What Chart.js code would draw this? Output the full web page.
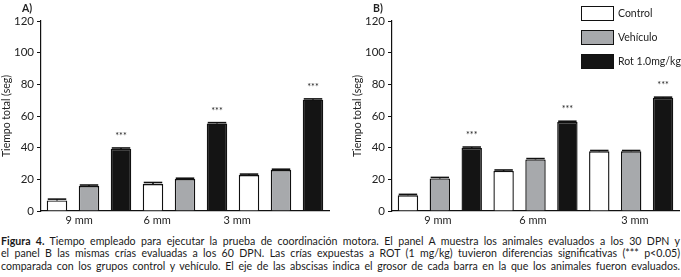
<!DOCTYPE html>
<html>
<head>
<meta charset="utf-8">
<script src="https://cdn.jsdelivr.net/npm/chart.js@4.4.1/dist/chart.umd.min.js"></script>
<style>
  body { margin: 0; background: #fff; font-family: Lato, "Open Sans", sans-serif; }
  #wrap { position: relative; width: 681px; height: 277px; overflow: hidden; }
  .panel { position: absolute; top: 0; height: 230px; }
  #pa { left: 0; width: 340px; }
  #pb { left: 340px; width: 341px; }
  #caption { position: absolute; left: 1px; top: 235px; width: 679px; font-size: 10.6px; line-height: 12.4px; color: #1a1a1a; }
  #caption div { text-align: justify; text-align-last: justify; white-space: nowrap; }
  #caption b { font-weight: 700; }
</style>
</head>
<body>
<div id="wrap">
  <div class="panel" id="pa"><canvas id="chartA" width="340" height="230"></canvas></div>
  <div class="panel" id="pb"><canvas id="chartB" width="341" height="230"></canvas></div>
  <div id="caption">
    <div><b>Figura 4.</b> Tiempo empleado para ejecutar la prueba de coordinación motora. El panel A muestra los animales evaluados a los 30 DPN y</div>
    <div>el panel B las mismas crías evaluadas a los 60 DPN. Las crías expuestas a ROT (1 mg/kg) tuvieron diferencias significativas (*** p&lt;0.05)</div>
    <div>comparada con los grupos control y vehículo. El eje de las abscisas indica el grosor de cada barra en la que los animales fueron evaluados.</div>
  </div>
</div>
<script>
// groups: Control, Vehículo, Rot 1.0mg/kg, repeated for 9 mm, 6 mm, 3 mm
var seriesNames = ['Control', 'Vehículo', 'Rot 1.0mg/kg'];
var seriesColors = ['#ffffff', '#a7a9ac', '#141414'];
var barGroup = [0, 1, 2, 0, 1, 2, 0, 1, 2];

var valuesA = [6.7, 15.8, 39.2, 17.0, 20.2, 55.2, 22.7, 25.9, 70.3];
var errorsA = [0.8, 0.6, 0.6, 1.0, 0.5, 0.6, 0.6, 0.5, 0.5];
var valuesB = [9.9, 20.6, 39.8, 25.3, 32.6, 56.2, 37.7, 37.7, 71.4];
var errorsB = [0.6, 0.6, 0.6, 0.6, 0.5, 0.5, 0.5, 0.5, 0.5];
var starBars = [2, 5, 8];

var tickLabels = ['9 mm', '6 mm', '3 mm'];
// where the x labels sit, in bar-index units (as printed in the figure)
var labelPosA = [0.69, 3.13, 5.63];
var labelPosB = [0.94, 3.92, 7.12];
var yTicks = [0, 20, 40, 60, 80, 100, 120];

var FONT = 'Lato, "Open Sans", sans-serif';

var capsPlugin = {
  id: 'caps',
  afterDatasetsDraw: function (chart, args, opts) {
    var ctx = chart.ctx;
    var meta = chart.getDatasetMeta(0);
    var ys = chart.scales.y;
    var vals = chart.data.datasets[0].data;
    ctx.save();
    meta.data.forEach(function (bar, i) {
      var top = ys.getPixelForValue(vals[i] + opts.errors[i]);
      var half = bar.width / 2;
      ctx.strokeStyle = '#111';
      ctx.lineWidth = 1.6;
      ctx.beginPath();
      ctx.moveTo(bar.x - half + 1, top);
      ctx.lineTo(bar.x + half - 1, top);
      ctx.stroke();
      ctx.beginPath();
      ctx.moveTo(bar.x, top);
      ctx.lineTo(bar.x, bar.y);
      ctx.stroke();
      if (starBars.indexOf(i) >= 0) {
        ctx.fillStyle = '#222';
        ctx.font = '9px ' + FONT;
        ctx.textAlign = 'center';
        ctx.textBaseline = 'middle';
        ctx.fillText('***', bar.x, top - 12);
      }
    });
    ctx.restore();
  }
};

// x labels placed through the category scale at fractional bar positions
var xLabelPlugin = {
  id: 'xLabels',
  afterDraw: function (chart, args, opts) {
    var ctx = chart.ctx;
    var xs = chart.scales.x;
    ctx.save();
    ctx.font = '11px ' + FONT;
    ctx.fillStyle = '#222';
    ctx.textAlign = 'center';
    ctx.textBaseline = 'middle';
    opts.pos.forEach(function (p, i) {
      ctx.fillText(tickLabels[i], xs.getPixelForValue(p), chart.chartArea.bottom + 9);
    });
    ctx.restore();
  }
};

var legendPlugin = {
  id: 'boxLegend',
  afterDraw: function (chart, args, opts) {
    if (!opts.show) return;
    var ctx = chart.ctx;
    var x = chart.chartArea.right - 98;
    ctx.save();
    ctx.font = '10.5px ' + FONT;
    ctx.textBaseline = 'middle';
    ctx.textAlign = 'left';
    seriesNames.forEach(function (name, i) {
      var y = 6 + i * 24;
      ctx.fillStyle = seriesColors[i];
      ctx.fillRect(x, y, 32, 14);
      ctx.strokeStyle = '#111';
      ctx.lineWidth = 1;
      ctx.strokeRect(x + 0.5, y + 0.5, 32, 14);
      ctx.fillStyle = '#222';
      ctx.fillText(name, x + 37, y + 7.5);
    });
    ctx.restore();
  }
};

var titlePlugin = {
  id: 'panelTitle',
  afterDraw: function (chart, args, opts) {
    var ctx = chart.ctx;
    ctx.save();
    ctx.font = 'bold 10.5px ' + FONT;
    ctx.fillStyle = '#222';
    ctx.textBaseline = 'middle';
    ctx.fillText(opts.text, opts.x, 9);
    ctx.restore();
  }
};

function makeChart(id, values, errors, labelPos, letter, padLeft, padRight, titleX, showLegend) {
  return new Chart(document.getElementById(id), {
    type: 'bar',
    data: {
      labels: barGroup.map(function (g, i) { return String(i); }),
      datasets: [{
        data: values,
        backgroundColor: barGroup.map(function (g) { return seriesColors[g]; }),
        borderColor: '#111',
        borderWidth: 1.4,
        barPercentage: 0.64,
        categoryPercentage: 1
      }]
    },
    options: {
      animation: false,
      responsive: false,
      layout: { padding: { top: 21, left: padLeft, right: padRight, bottom: 0 } },
      plugins: {
        legend: { display: false },
        tooltip: { enabled: false },
        caps: { errors: errors },
        xLabels: { pos: labelPos },
        boxLegend: { show: showLegend },
        panelTitle: { text: letter, x: titleX }
      },
      scales: {
        x: {
          afterFit: function (scale) { scale.height = 19; },
          ticks: { display: false },
          grid: { display: false },
          border: { display: true, color: '#111', width: 1.2 }
        },
        y: {
          min: 0,
          max: 120,
          afterBuildTicks: function (scale) {
            scale.ticks = yTicks.map(function (v) { return { value: v }; });
          },
          afterFit: function (scale) { scale.width = 41; },
          ticks: {
            padding: 3,
            color: '#222',
            font: { family: FONT, size: 11.5 }
          },
          grid: { display: true, drawOnChartArea: false, drawTicks: true, tickLength: 4, color: '#111', lineWidth: 1 },
          border: { display: true, color: '#111', width: 1.2 },
          title: {
            display: true,
            text: 'Tiempo total (seg)',
            color: '#222',
            padding: 0,
            font: { family: FONT, size: 10.5 }
          }
        }
      }
    },
    plugins: [capsPlugin, xLabelPlugin, legendPlugin, titlePlugin, {
      id: 'whiteBg',
      beforeDraw: function (chart) {
        var ctx = chart.canvas.getContext('2d');
        ctx.save();
        ctx.globalCompositeOperation = 'destination-over';
        ctx.fillStyle = 'white';
        ctx.fillRect(0, 0, chart.canvas.width, chart.canvas.height);
        ctx.restore();
      }
    }]
  });
}

var chartA = makeChart('chartA', valuesA, errorsA, labelPosA, 'A)', 0, 11, 22, false);
var chartB = makeChart('chartB', valuesB, errorsB, labelPosB, 'B)', 11, 2, 33, true);
</script>
</body>
</html>
